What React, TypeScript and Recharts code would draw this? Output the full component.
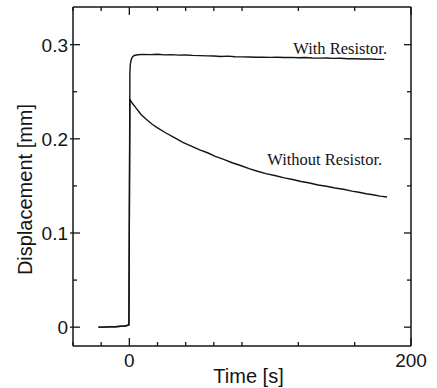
import React from "react";
import { LineChart, Line, XAxis, YAxis, ReferenceDot, Label } from "recharts";

// Time axis values [s]
const withResistorTime = [
  -22, -18, -14, -10, -6, -3, -1, -0.3, 0.4, 0.7, 1.3, 2.2, 3.5, 6, 10, 15, 20, 25,
  30, 35, 40, 45, 50, 55, 60, 65, 70, 75, 80, 85, 90, 95, 100, 105, 110, 115, 120,
  125, 130, 135, 140, 145, 150, 155, 160, 165, 170, 175, 181,
];
// Displacement [mm]
const withResistorDisp = [
  0, 0, 0.0004, 0.0005, 0.001, 0.0012, 0.002, 0.0025, 0.27, 0.279, 0.284, 0.287,
  0.2885, 0.2893, 0.2897, 0.2894, 0.2898, 0.2892, 0.2894, 0.2889, 0.2891, 0.2886,
  0.2884, 0.2881, 0.2879, 0.2874, 0.2878, 0.2872, 0.2870, 0.2869, 0.2866, 0.2868,
  0.2865, 0.2866, 0.2863, 0.2865, 0.2861, 0.2863, 0.2859, 0.2857, 0.2858, 0.2854,
  0.2856, 0.2851, 0.2850, 0.2847, 0.2849, 0.2845, 0.2844,
];

const withoutResistorTime = [
  -22, -18, -14, -10, -6, -3, -1, -0.3, 0.4, 2, 4, 8.3, 12, 16, 20, 26, 32, 38, 44,
  50, 55.5, 61, 67, 73, 79, 85, 91, 97, 104, 110, 116, 122, 128, 134, 140, 146, 152,
  158, 163, 168, 173, 178, 183,
];
const withoutResistorDisp = [
  0, 0, 0.0004, 0.0005, 0.001, 0.0012, 0.002, 0.0025, 0.2418, 0.238, 0.2342, 0.2259,
  0.2207, 0.2158, 0.2117, 0.2062, 0.2013, 0.1963, 0.1922, 0.1883, 0.1852, 0.1814,
  0.1781, 0.1746, 0.1717, 0.1683, 0.1656, 0.1631, 0.1608, 0.1585, 0.1568, 0.1547,
  0.1531, 0.1510, 0.1497, 0.1478, 0.1464, 0.1445, 0.1433, 0.1417, 0.1406, 0.1392,
  0.1383,
];

const xTicks = [-40, -20, 0, 20, 40, 60, 80, 100, 120, 140, 160, 180, 200];
const yTicks = [0, 0.05, 0.1, 0.15, 0.2, 0.25, 0.3];

const annotationText = ["With Resistor.", "Without Resistor."];
const annotationTime = [183, 179.5];
const annotationDisp = [0.2897, 0.1727];

const withData = withResistorTime.map((t, i) => ({ t, v: withResistorDisp[i] }));
const withoutData = withoutResistorTime.map((t, i) => ({ t, v: withoutResistorDisp[i] }));

const INK = "#141414";
const SANS = "'Liberation Sans', Arial, Helvetica, sans-serif";
const SERIF = "'Liberation Serif', 'Times New Roman', serif";

const isXMajor = (v: number) => v % 100 === 0;
const isYMajor = (v: number) => Math.abs(v * 10 - Math.round(v * 10)) < 1e-6;

const BottomTick = (props: any) => {
  const { x, y, payload } = props;
  const v = payload.value;
  const major = isXMajor(v);
  return (
    <g>
      <line x1={x} x2={x} y1={y} y2={y - (major ? 8 : 4)} stroke={INK} strokeWidth={1.3} />
      {major && v >= 0 ? (
        <text x={x} y={y + 21} textAnchor="middle" fontSize={19} fontFamily={SANS} fill={INK}>
          {v}
        </text>
      ) : null}
    </g>
  );
};

const TopTick = (props: any) => {
  const { x, y, payload } = props;
  const major = isXMajor(payload.value);
  return <line x1={x} x2={x} y1={y} y2={y + (major ? 8 : 4)} stroke={INK} strokeWidth={1.3} />;
};

const LeftTick = (props: any) => {
  const { x, y, payload } = props;
  const v = payload.value;
  const major = isYMajor(v);
  return (
    <g>
      <line x1={major ? x - 3 : x} x2={x + (major ? 7 : 4)} y1={y} y2={y} stroke={INK} strokeWidth={1.3} />
      {major ? (
        <text x={x - 5} y={y} dy="0.36em" textAnchor="end" fontSize={19} fontFamily={SANS} fill={INK}>
          {v === 0 ? "0" : (Math.round(v * 10) / 10).toString()}
        </text>
      ) : null}
    </g>
  );
};

const RightTick = (props: any) => {
  const { x, y, payload } = props;
  const major = isYMajor(payload.value);
  return <line x1={x} x2={x - (major ? 7 : 4)} y1={y} y2={y} stroke={INK} strokeWidth={1.3} />;
};

const YTitle = (props: any) => {
  const vb = props.viewBox;
  const cx = vb.x + 25;
  const cy = vb.y + vb.height / 2 + 13;
  return (
    <text
      x={cx}
      y={cy}
      transform={`rotate(-90 ${cx} ${cy})`}
      textAnchor="middle"
      dy="0.36em"
      fontSize={20}
      fontFamily={SANS}
      fill={INK}
    >
      Displacement [mm]
    </text>
  );
};

const XTitle = (props: any) => {
  const vb = props.viewBox;
  return (
    <text
      x={vb.x + vb.width / 2 + 6.5}
      y={vb.y + 37}
      textAnchor="middle"
      fontSize={20}
      fontFamily={SANS}
      fill={INK}
    >
      Time [s]
    </text>
  );
};

const makeAnnot = (text: string) => (props: any) => {
  const vb = props.viewBox;
  return (
    <text
      x={vb.x + vb.width / 2}
      y={vb.y + vb.height / 2}
      textAnchor="end"
      fontSize={16.5}
      fontFamily={SERIF}
      fill={INK}
    >
      {text}
    </text>
  );
};

export default function App() {
  return (
    <div style={{ position: "absolute", left: 0, top: 0, background: "#fff" }}>
      <LineChart width={437} height={388} margin={{ top: 0, right: 0, bottom: 0, left: 0 }}>
        <XAxis
          xAxisId="b"
          dataKey="t"
          type="number"
          domain={[-40, 200]}
          ticks={xTicks}
          allowDataOverflow
          height={42}
          tickSize={0}
          tickMargin={0}
          tick={<BottomTick />}
          axisLine={{ stroke: INK, strokeWidth: 1.5 }}
          tickLine={false}
        >
          <Label content={<XTitle />} />
        </XAxis>
        <XAxis
          xAxisId="t"
          orientation="top"
          dataKey="t"
          type="number"
          domain={[-40, 200]}
          ticks={xTicks}
          allowDataOverflow
          height={7}
          tickSize={0}
          tickMargin={0}
          tick={<TopTick />}
          axisLine={{ stroke: INK, strokeWidth: 1.5 }}
          tickLine={false}
        />
        <YAxis
          yAxisId="l"
          type="number"
          domain={[-0.02, 0.34]}
          ticks={yTicks}
          allowDataOverflow
          width={73}
          tickSize={0}
          tickMargin={0}
          tick={<LeftTick />}
          axisLine={{ stroke: INK, strokeWidth: 1.5 }}
          tickLine={false}
        >
          <Label content={<YTitle />} />
        </YAxis>
        <YAxis
          yAxisId="r"
          orientation="right"
          type="number"
          domain={[-0.02, 0.34]}
          ticks={yTicks}
          allowDataOverflow
          width={26}
          tickSize={0}
          tickMargin={0}
          tick={<RightTick />}
          axisLine={{ stroke: INK, strokeWidth: 1.5 }}
          tickLine={false}
        />
        <Line
          xAxisId="b"
          yAxisId="l"
          data={withData}
          dataKey="v"
          type="linear"
          stroke={INK}
          strokeWidth={1.4}
          dot={false}
          isAnimationActive={false}
        />
        <Line
          xAxisId="t"
          yAxisId="r"
          data={withoutData}
          dataKey="v"
          type="linear"
          stroke={INK}
          strokeWidth={1.4}
          dot={false}
          isAnimationActive={false}
        />
        {annotationText.map((txt, i) => (
          <ReferenceDot
            key={txt}
            xAxisId="b"
            yAxisId="l"
            x={annotationTime[i]}
            y={annotationDisp[i]}
            r={1}
            fill="none"
            stroke="none"
          >
            <Label content={makeAnnot(txt)} />
          </ReferenceDot>
        ))}
      </LineChart>
    </div>
  );
}
